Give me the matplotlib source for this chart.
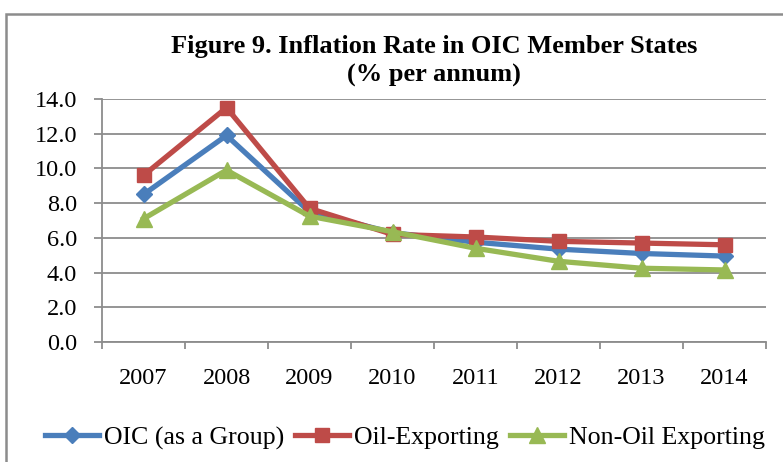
import matplotlib
matplotlib.use("Agg")
import matplotlib.pyplot as plt
from matplotlib.patches import Rectangle
from matplotlib.lines import Line2D

years = ["2007", "2008", "2009", "2010", "2011", "2012", "2013", "2014"]
oic = [8.5, 11.9, 7.5, 6.3, 5.75, 5.35, 5.1, 4.95]
oil = [9.6, 13.5, 7.7, 6.2, 6.05, 5.8, 5.7, 5.6]
nonoil = [7.1, 9.9, 7.25, 6.35, 5.4, 4.65, 4.25, 4.15]
yticks = [0, 2, 4, 6, 8, 10, 12, 14]
labels = ['OIC (as a Group)', 'Oil-Exporting', 'Non-Oil Exporting']

plt.rcParams['font.family'] = ['Liberation Serif', 'DejaVu Serif']

fig = plt.figure(figsize=(7.83, 4.62), dpi=100)
W, H = 783, 462
# outer border
fig.patches.append(Rectangle((6 / W, -0.1), 1.2, 1 - 14 / H + 0.1, transform=fig.transFigure,
                             fill=False, edgecolor='#8c8c8c', linewidth=1.8))

ax = fig.add_axes([102 / W, 1 - 342 / H, 664 / W, 243 / H])
x = list(range(len(years)))
blue = '#4a7ebb'
red = '#be4b48'
green = '#98b954'
ax.plot(x, oic, color=blue, lw=3.8, marker='D', ms=8, zorder=3)
ax.plot(x, oil, color=red, lw=3.8, marker='s', ms=10, zorder=4)
ax.plot(x, nonoil, color=green, lw=3.8, marker='^', ms=11, zorder=5)

ax.set_xlim(-0.5, len(years) - 0.5)
ax.set_ylim(0, 14)
ax.set_yticks(yticks)
ax.set_yticklabels([f"{v:.1f}" for v in yticks], fontsize=17.5)
ax.yaxis.grid(True, color='#8c8c8c', lw=1.3)
ax.set_axisbelow(True)
ax.set_xticks(x)
ax.set_xticklabels(years, fontsize=17.5)
ax.tick_params(axis='x', length=0, pad=19)
ax.set_xticks([i - 0.5 for i in range(len(years) + 1)], minor=True)
ax.tick_params(axis='x', which='minor', length=5, color='#8c8c8c', width=1.3)
ax.tick_params(axis='y', length=6, color='#8c8c8c', width=1.3, pad=12)
for s in ['top', 'right']:
    ax.spines[s].set_visible(False)
for s in ['left', 'bottom']:
    ax.spines[s].set_color('#8c8c8c')
    ax.spines[s].set_linewidth(1.3)

fig.text(434 / W, 1 - 53 / H, "Figure 9. Inflation Rate in OIC Member States",
         ha='center', va='baseline', fontsize=19, fontweight='bold')
fig.text(434 / W, 1 - 82 / H, "(% per annum)",
         ha='center', va='baseline', fontsize=19, fontweight='bold')

handles = [Line2D([], [], color=blue, lw=3.8, marker='D', ms=8),
           Line2D([], [], color=red, lw=3.8, marker='s', ms=10),
           Line2D([], [], color=green, lw=3.8, marker='^', ms=11)]
fig.legend(handles, labels,
           loc='center left', bbox_to_anchor=(45 / W, 1 - 438 / H), ncol=3, frameon=False,
           fontsize=18.6, handlelength=2.1, handletextpad=0.2, columnspacing=0.4,
           borderaxespad=0, borderpad=0)

fig.savefig("out.png", dpi=100)
